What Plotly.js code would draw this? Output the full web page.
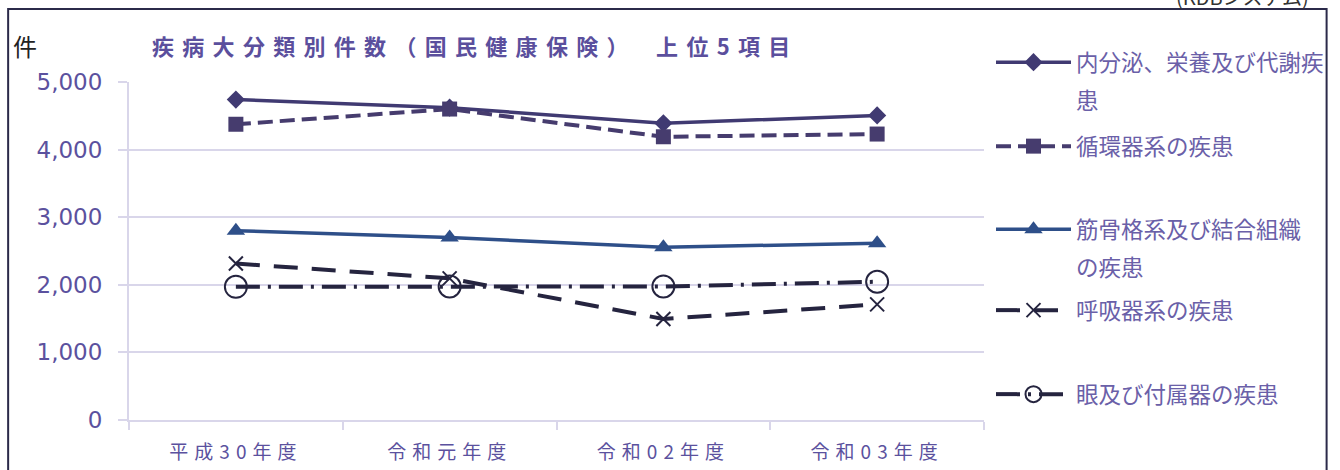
<!DOCTYPE html>
<html><head><meta charset="utf-8">
<script src="https://cdn.plot.ly/plotly-3.0.1.min.js"></script>
<style>
html,body{margin:0;padding:0;background:#fff;}
#chart{width:1340px;height:470px;}
.xtick text{letter-spacing:6px;}
.gtitle{letter-spacing:8.3px;}
</style></head><body><div id="chart"></div>
<script>
const categories = ['平成30年度','令和元年度','令和02年度','令和03年度'];
const seriesNames = ['内分泌、栄養及び代謝疾<br>患','循環器系の疾患','筋骨格系及び結合組織<br>の疾患','呼吸器系の疾患','眼及び付属器の疾患'];
const endocrine = [4740, 4620, 4390, 4505];
const circulatory = [4375, 4600, 4190, 4230];
const musculoskeletal = [2800, 2700, 2555, 2615];
const respiratory = [2315, 2095, 1495, 1710];
const eye = [1970, 1975, 1975, 2045];
const yTickVals = [0, 1000, 2000, 3000, 4000, 5000];
const yTickText = ['0', '1,000', '2,000', '3,000', '4,000', '5,000'];
const titleText = '疾病大分類別件数（国民健康保険）　上位5項目';
const unitLabel = '件';
const sourceLabel = '(KDBシステム)';

const JP = '"Noto Sans CJK JP", "Noto Sans", sans-serif';
const NUM = '"DejaVu Sans", Verdana, sans-serif';
const PURPLE = '#5B519E';
const LEG = '#6A60A8';
const GRID = '#D9D6EA';

// plot area in pixels: x 129..985, y 82..420
const PL = 129, PR = 985, PT = 82, PB = 420;
const px = v => (v - PL) / (PR - PL);
const py = v => (PB - v) / (PB - PT);

const traces = [
  {name: seriesNames[0], y: endocrine, legend: 'legend',
   line: {color: '#403A72', width: 3.5},
   marker: {symbol: 'diamond', size: 14, color: '#403A72'}},
  {name: seriesNames[1], y: circulatory, legend: 'legend2',
   line: {color: '#463C6E', width: 4, dash: '15px,7px'},
   marker: {symbol: 'square', size: 15, color: '#463C6E'}},
  {name: seriesNames[2], y: musculoskeletal, legend: 'legend3',
   line: {color: '#2E4F89', width: 3.5},
   marker: {symbol: 'triangle-up', size: 16, color: '#2E4F89'}},
  {name: seriesNames[3], y: respiratory, legend: 'legend4',
   line: {color: '#25243F', width: 4, dash: '24px,14px'},
   marker: {symbol: 'x-thin', size: 14, color: '#25243F', line: {color: '#25243F', width: 2}}},
  {name: seriesNames[4], y: eye, legend: 'legend5',
   line: {color: '#25243F', width: 4, dash: '24px,8px,3px,8px'},
   marker: {symbol: 'circle-open', size: 22, color: '#25243F', line: {color: '#25243F', width: 2}}}
].map(t => Object.assign({type: 'scatter', mode: 'lines+markers', x: categories, hoverinfo: 'skip'}, t));

function leg(yPix) {
  return {x: px(991), y: py(yPix), xanchor: 'left', yanchor: 'top', xref: 'paper', yref: 'paper',
    bgcolor: 'rgba(0,0,0,0)', borderwidth: 0, itemwidth: 75, valign: 'top',
    font: {family: JP, size: 22.5, color: LEG}, itemclick: false, itemdoubleclick: false};
}

const layout = {
  width: 1340, height: 470,
  margin: {l: PL, r: 1340 - PR, t: PT, b: 470 - PB, pad: 0},
  paper_bgcolor: '#fff', plot_bgcolor: '#fff',
  showlegend: true,
  title: {text: titleText, x: 152 / 1340, xref: 'container', xanchor: 'left',
          y: 1 - 47 / 470, yref: 'container', yanchor: 'middle',
          font: {family: JP, size: 22, color: '#5B4F9D', weight: 700}},
  xaxis: {type: 'category', range: [-0.5, 3.5], showgrid: false, zeroline: false,
          showline: true, linecolor: GRID, linewidth: 2,
          ticks: 'outside', tickson: 'boundaries', ticklen: 8, tickcolor: GRID, tickwidth: 2,
          tickfont: {family: JP, size: 19, color: PURPLE}, ticklabelstandoff: 14, fixedrange: true},
  yaxis: {range: [0, 5000], tickvals: yTickVals, ticktext: yTickText,
          showgrid: true, gridcolor: GRID, gridwidth: 2, zeroline: false,
          showline: true, linecolor: GRID, linewidth: 2,
          ticks: 'outside', ticklen: 9, tickcolor: GRID, tickwidth: 2,
          tickfont: {family: NUM, size: 23, color: PURPLE}, ticklabelstandoff: 11, fixedrange: true},
  legend: leg(41), legend2: leg(125), legend3: leg(208), legend4: leg(289), legend5: leg(373),
  shapes: [
    {type: 'rect', xref: 'paper', yref: 'paper', x0: px(8), x1: px(1328), y0: py(480), y1: py(9),
     line: {color: '#2B2A4A', width: 2}, fillcolor: 'rgba(0,0,0,0)', layer: 'above'}
  ],
  annotations: [
    {text: unitLabel, xref: 'paper', yref: 'paper', x: px(25), y: py(45), xanchor: 'center', yanchor: 'middle',
     showarrow: false, font: {family: JP, size: 24, color: '#222'}},
    {text: sourceLabel, xref: 'paper', yref: 'paper', x: px(1312), y: py(-3), xanchor: 'right', yanchor: 'middle',
     showarrow: false, font: {family: JP, size: 20, color: '#333'}}
  ]
};

const gdDiv = document.getElementById('chart');
// widen the line spacing of the two-line legend entries to match the reference
function fixLegendLines() {
  gdDiv.querySelectorAll('g.legend text, g.legend3 text').forEach(txt => {
    const spans = txt.querySelectorAll('tspan');
    spans.forEach((t, i) => {
      if (i > 0 && t.hasAttribute('dy') && t.getAttribute('dy') !== '1.69em') {
        t.setAttribute('dy', '1.69em');
      }
    });
  });
}
new MutationObserver(fixLegendLines).observe(gdDiv, {childList: true, subtree: true});

Plotly.newPlot(gdDiv, traces, layout, {displayModeBar: false, staticPlot: true});
fixLegendLines();
setTimeout(fixLegendLines, 0);
</script></body></html>
